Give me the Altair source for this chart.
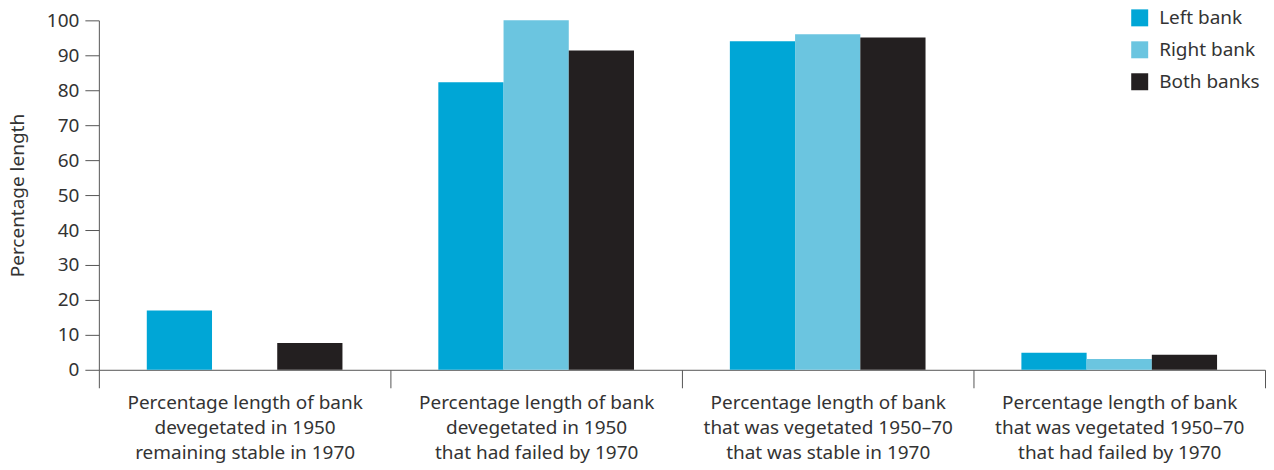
import altair as alt
import pandas as pd

groups = [
    "Percentage length of bank|devegetated in 1950|remaining stable in 1970",
    "Percentage length of bank|devegetated in 1950|that had failed by 1970",
    "Percentage length of bank|that was vegetated 1950–70|that was stable in 1970",
    "Percentage length of bank|that was vegetated 1950–70|that had failed by 1970",
]
series = ["Left bank", "Right bank", "Both banks"]
left_bank = [17.0, 82.3, 94.0, 4.9]
right_bank = [0.0, 100.0, 96.0, 3.1]
both_banks = [7.7, 91.4, 95.1, 4.3]
colors = ["#00a6d6", "#6bc5e0", "#231f20"]

rows = []
for s, vals in zip(series, [left_bank, right_bank, both_banks]):
    for g, v in zip(groups, vals):
        rows.append({"group": g, "series": s, "value": v})
df = pd.DataFrame(rows)

FONT = "Noto Sans"
FS = 19
TXT = "#333333"
AX = "#555555"

chart = alt.Chart(df).mark_bar().encode(
    x=alt.X(
        "group:N",
        sort=groups,
        scale=alt.Scale(paddingInner=0, paddingOuter=0),
        axis=alt.Axis(
            title=None,
            labelAngle=0,
            labelExpr="isValid(datum.value) ? split(datum.value, '|') : ''",
            labelLimit=0,
            tickBand="extent",
            tickSize=18,
            tickColor=AX,
            domainColor=AX,
            labelLineHeight=25,
            labelPadding=6,
            labelFontSize=FS,
            labelFont=FONT,
            labelColor=TXT,
            labelBaseline="top",
        ),
    ),
    xOffset=alt.XOffset(
        "series:N", sort=series, scale=alt.Scale(paddingInner=0, paddingOuter=0.735)
    ),
    y=alt.Y(
        "value:Q",
        scale=alt.Scale(domain=[0, 100], nice=False),
        axis=alt.Axis(
            title="Percentage length",
            values=list(range(0, 101, 10)),
            tickSize=14,
            tickColor=AX,
            domainColor=AX,
            labelPadding=6,
            labelFontSize=FS,
            labelFont=FONT,
            labelColor=TXT,
            titleFont=FONT,
            titleFontSize=FS,
            titleFontWeight="normal",
            titleColor=TXT,
            titlePadding=19,
            grid=False,
        ),
    ),
    color=alt.Color(
        "series:N",
        sort=series,
        scale=alt.Scale(domain=series, range=colors),
        legend=alt.Legend(
            title=None,
            orient="none",
            legendX=1033,
            legendY=-12,
            symbolType="square",
            symbolSize=289,
            symbolStrokeWidth=0,
            symbolOpacity=1,
            labelFont=FONT,
            labelFontSize=FS,
            labelColor=TXT,
            rowPadding=12,
            labelOffset=10,
        ),
    ),
).properties(
    width=1168,
    height=350,
    padding={"left": 0, "top": 0, "right": 0, "bottom": 12},
).configure_view(stroke=None)

chart.save("out.html", embed_options={"renderer": "svg", "actions": False})
